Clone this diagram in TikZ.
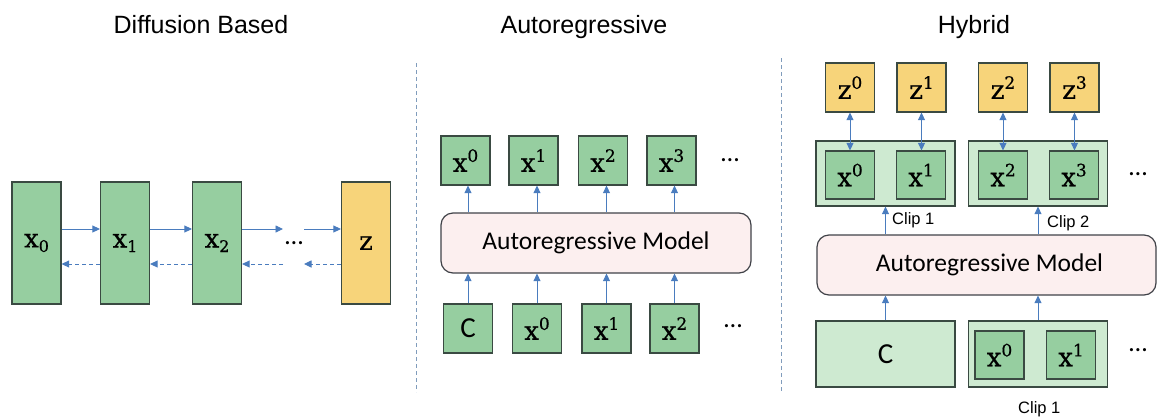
\documentclass[tikz,border=0pt]{standalone}
\usepackage{fontspec}
\setmainfont{Liberation Sans}
\newfontfamily\calfont{Carlito}
\newfontfamily\varfont[FakeBold=0.6]{DejaVu Serif}
\usetikzlibrary{arrows.meta}

\definecolor{gfill}{RGB}{150,206,160}
\definecolor{lgfill}{RGB}{206,234,209}
\definecolor{yfill}{RGB}{247,212,122}
\definecolor{pfill}{RGB}{252,239,239}
\definecolor{bord}{RGB}{58,74,66}
\definecolor{mbord}{RGB}{64,66,72}
\definecolor{ablue}{RGB}{74,124,190}
\definecolor{sepc}{RGB}{128,156,188}

% variable with superscript / subscript
\newcommand\vsup[2]{{\varfont\fontsize{26}{26}\selectfont #1}\raisebox{10pt}{\varfont\fontsize{17}{17}\selectfont #2}}
\newcommand\vsub[2]{{\varfont\fontsize{26}{26}\selectfont #1}\raisebox{-4.5pt}{\varfont\fontsize{16}{16}\selectfont #2}}
\newcommand\varsym[1]{{\varfont\fontsize{26}{26}\selectfont #1}}

\tikzset{
  gbox/.style={draw=bord, fill=gfill, line width=1.2pt, inner sep=0pt,
               minimum width=49pt, minimum height=49pt},
  ybox/.style={gbox, fill=yfill},
  tallbox/.style={gbox, minimum height=122pt},
  clipbox/.style={draw=bord, fill=lgfill, line width=1.2pt, inner sep=0pt,
                  minimum width=139pt, minimum height=65pt},
  modelbox/.style={draw=mbord, fill=pfill, line width=1.2pt, rounded corners=12pt,
                   inner sep=0pt, minimum height=60pt,
                   font=\calfont\fontsize{25.5}{26}\selectfont},
  title/.style={anchor=base, font=\fontsize{25}{26}\selectfont},
  cliplabel/.style={anchor=base west, inner sep=0pt, font=\fontsize{16.5}{17}\selectfont},
  dotsnode/.style={inner sep=0pt, font=\calfont\fontsize{26}{26}\selectfont},
  cfont/.style={font=\calfont\fontsize{29}{29}\selectfont},
  arr/.style={draw=ablue, line width=0.9pt, -{Triangle[length=7.5pt,width=7pt]}},
  backarr/.style={arr, dash pattern=on 4pt off 3pt},
  dblarr/.style={draw=ablue, line width=0.9pt,
                 {Triangle[length=7.5pt,width=7pt]}-{Triangle[length=7.5pt,width=7pt]}},
  sepline/.style={draw=sepc, line width=0.8pt, dash pattern=on 4pt off 3pt}
}

\begin{document}
\begin{tikzpicture}[x=1pt,y=-1pt]
\useasboundingbox (0,0) rectangle (1157,418);

% ---------- titles ----------
\node[title] (t1) at (201,33) {Diffusion Based};
\node[title] (t2) at (584,33) {Autoregressive};
\node[title] (t3) at (974,33) {Hybrid};

% ---------- separators ----------
\coordinate (s1a) at (416,63);  \coordinate (s1b) at (416,392);
\coordinate (s2a) at (781,58);  \coordinate (s2b) at (781,392);
\draw[sepline] (s1a) -- (s1b);
\draw[sepline] (s2a) -- (s2b);

% ---------- diffusion chain ----------
\node[tallbox] (d0) at (36.5,243) {\vsub{x}{0}};
\node[tallbox] (d1) at (125,243) {\vsub{x}{1}};
\node[tallbox] (d2) at (217,243) {\vsub{x}{2}};
\node[tallbox, fill=yfill] (dz) at (366,243) {\varsym{z}};
\node[dotsnode] (ddots) at (294,243) {…};
\coordinate (dl) at (283,243);
\coordinate (dr) at (304,243);

\draw[arr] ([yshift=14pt]d0.east) -- ([yshift=14pt]d1.west);
\draw[arr] ([yshift=14pt]d1.east) -- ([yshift=14pt]d2.west);
\draw[arr] ([yshift=14pt]d2.east) -- ([yshift=14pt]dl);
\draw[arr] ([yshift=14pt]dr) -- ([yshift=14pt]dz.west);

\draw[backarr] ([yshift=-21pt]d1.west) -- ([yshift=-21pt]d0.east);
\draw[backarr] ([yshift=-21pt]d2.west) -- ([yshift=-21pt]d1.east);
\draw[backarr] ([yshift=-21pt]dl) -- ([yshift=-21pt]d2.east);
\draw[backarr] ([yshift=-21pt]dz.west) -- ([yshift=-21pt]dr);

% ---------- autoregressive ----------
\node[gbox] (a0) at (465.5,160.5) {\vsup{x}{0}};
\node[gbox] (a1) at (533.5,160.5) {\vsup{x}{1}};
\node[gbox] (a2) at (603,160.5) {\vsup{x}{2}};
\node[gbox] (a3) at (671.5,160.5) {\vsup{x}{3}};
\node[dotsnode] (adots1) at (730,160) {…};

\node[modelbox, minimum width=310pt] (am) at (596,243) {Autoregressive Model};

\node[gbox, cfont] (ac) at (468,328.5) {C};
\node[gbox] (b0) at (537,328.5) {\vsup{x}{0}};
\node[gbox] (b1) at (606.5,328.5) {\vsup{x}{1}};
\node[gbox] (b2) at (674.5,328.5) {\vsup{x}{2}};
\node[dotsnode] (adots2) at (733,326) {…};

\foreach \b in {ac,b0,b1,b2}{
  \draw[arr] (\b.north) -- (\b.north |- am.south);
  \draw[arr] (\b.north |- am.north) -- (\b.north |- a0.south);
}

% ---------- hybrid ----------
\node[ybox] (z0) at (850,87.5) {\vsup{z}{0}};
\node[ybox] (z1) at (921.5,87.5) {\vsup{z}{1}};
\node[ybox] (z2) at (1003,87.5) {\vsup{z}{2}};
\node[ybox] (z3) at (1074.5,87.5) {\vsup{z}{3}};

\node[clipbox] (c1) at (885.5,173.5) {};
\node[clipbox] (c2) at (1038,173.5) {};
\node[gbox, minimum height=48pt] (h0) at (850,175) {\vsup{x}{0}};
\node[gbox, minimum height=48pt] (h1) at (921,175) {\vsup{x}{1}};
\node[gbox, minimum height=48pt] (h2) at (1003,175) {\vsup{x}{2}};
\node[gbox, minimum height=48pt] (h3) at (1074,175) {\vsup{x}{3}};
\node[dotsnode] (hdots1) at (1138,174) {…};

\foreach \z/\h in {z0/h0,z1/h1,z2/h2,z3/h3}{
  \draw[dblarr] (\z.south) -- (\z.south |- \h.north);
}

\node[cliplabel] (l1) at (892,224) {Clip 1};
\node[cliplabel] (l2) at (1047,227) {Clip 2};

\node[modelbox, minimum width=339pt] (hm) at (986.5,265) {\hspace*{6pt}Autoregressive Model};

\node[clipbox, minimum height=66pt, cfont] (hc) at (885.5,354) {C};
\node[clipbox, minimum height=66pt] (c3) at (1038,354) {};
\node[gbox, minimum height=48pt] (g0) at (999.5,355) {\vsup{x}{0}};
\node[gbox, minimum height=48pt] (g1) at (1071,355) {\vsup{x}{1}};
\node[dotsnode] (hdots2) at (1138,350) {…};
\node[cliplabel] (l3) at (1018,413) {Clip 1};

\draw[arr] (hm.north -| c1.south) -- (c1.south);
\draw[arr] (hm.north -| c2.south) -- (c2.south);
\draw[arr] (hc.north) -- (hc.north |- hm.south);
\draw[arr] (c3.north) -- (c3.north |- hm.south);
\end{tikzpicture}
\end{document}
